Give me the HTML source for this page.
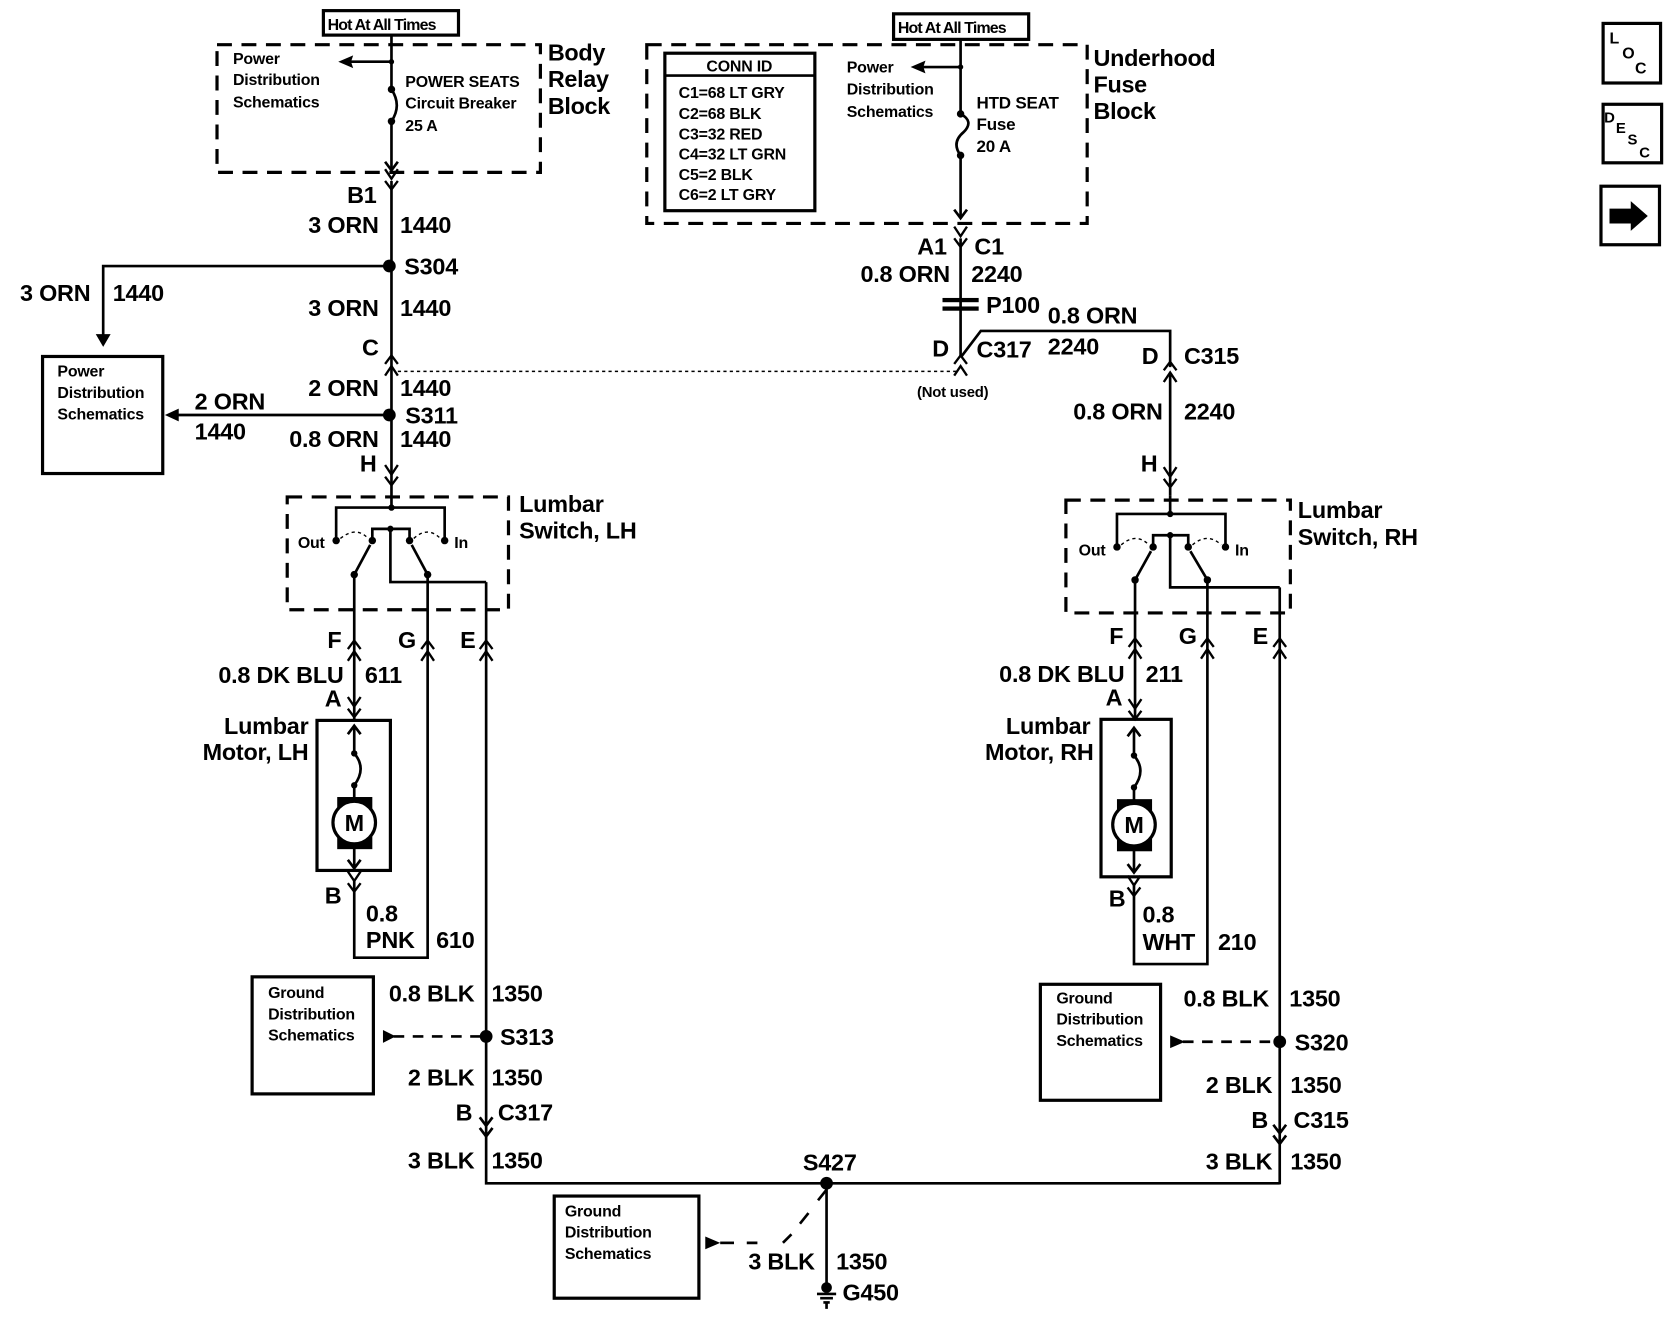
<!DOCTYPE html>
<html><head><meta charset="utf-8"><style>
html,body{margin:0;padding:0;background:#fff;}
svg{display:block;}
text{font-family:"Liberation Sans",sans-serif;fill:#000;}
.t{font-size:22px;font-weight:bold;letter-spacing:-0.2px;}
.s{font-size:15px;font-weight:bold;letter-spacing:-0.2px;}
.b{font-size:22px;font-weight:bold;letter-spacing:-0.3px;}
.w{stroke:#000;stroke-width:2.5;fill:none;}
.d{stroke:#000;stroke-width:3;fill:none;stroke-dasharray:14,9;}
.dt{stroke:#000;stroke-width:1.3;fill:none;stroke-dasharray:3,3;}
.bx{stroke:#000;stroke-width:3;fill:none;}
</style></head><body>
<svg width="1668" height="1328" viewBox="0 0 1568 1248" preserveAspectRatio="none" xmlns="http://www.w3.org/2000/svg">
<defs>
<g id="cd"><path d="M-6,-9 L0,0 L6,-9 M-6,2 L0,10 L6,2" stroke="#000" stroke-width="2.2" fill="none"/></g>
<g id="cu"><path d="M-6,9 L0,0 L6,9 M-6,-2 L0,-10 L6,-2" stroke="#000" stroke-width="2.2" fill="none"/></g>
</defs>

<!-- ===== Top left: Body Relay Block ===== -->
<rect x="304" y="10" width="127" height="23" class="bx"/>
<text x="308" y="28" class="s" style="letter-spacing:-0.8px">Hot At All Times</text>
<rect x="204" y="42" width="304" height="120" class="d"/>
<text x="219" y="60" class="s">Power</text>
<text x="219" y="80" class="s">Distribution</text>
<text x="219" y="101" class="s">Schematics</text>
<path d="M368,33 V84 M368,114 V160" class="w"/>
<path d="M368,58 H326" class="w"/>
<path d="M318,58 L332,52 L330,58 L332,64 Z" fill="#000"/>
<circle cx="368" cy="58" r="2.5"/>
<circle cx="368" cy="84" r="3.5"/><circle cx="368" cy="114" r="3.5"/>
<path d="M368,84 Q378,99 368,114" class="w"/>
<path d="M362,152 L368,160 L374,152" class="w"/>
<text x="381" y="82" class="s">POWER SEATS</text>
<text x="381" y="102" class="s">Circuit Breaker</text>
<text x="381" y="123" class="s">25 A</text>
<text x="515" y="57" class="b">Body</text>
<text x="515" y="82" class="b">Relay</text>
<text x="515" y="107" class="b">Block</text>

<!-- LH main feed -->
<path d="M368,170 V466" class="w"/>
<use href="#cd" x="368" y="168"/>
<text x="354" y="191" class="t" text-anchor="end">B1</text>
<text x="356" y="219" class="t" text-anchor="end">3 ORN</text>
<text x="376" y="219" class="t">1440</text>
<circle cx="366" cy="250" r="6"/>
<text x="380" y="258" class="t">S304</text>
<path d="M366,250 H97 V318" class="w"/>
<path d="M90,314 L97,326 L104,314" fill="#000"/>
<text x="85" y="283" class="t" text-anchor="end">3 ORN</text>
<text x="106" y="283" class="t">1440</text>
<rect x="40" y="335" width="113" height="110" class="bx"/>
<text x="54" y="354" class="s">Power</text>
<text x="54" y="374" class="s">Distribution</text>
<text x="54" y="394" class="s">Schematics</text>
<text x="356" y="297" class="t" text-anchor="end">3 ORN</text>
<text x="376" y="297" class="t">1440</text>
<text x="356" y="334" class="t" text-anchor="end">C</text>
<use href="#cu" x="368" y="344"/>
<path d="M374,349 H900" class="dt" stroke-width="1.6" stroke-dasharray="5,5"/>
<text x="356" y="372" class="t" text-anchor="end">2 ORN</text>
<text x="376" y="372" class="t">1440</text>
<circle cx="366" cy="390" r="6"/>
<text x="381" y="398" class="t">S311</text>
<path d="M366,390 H166" class="w"/>
<path d="M155,390 L168,384 L168,396 Z" fill="#000"/>
<text x="183" y="385" class="t">2 ORN</text>
<text x="183" y="413" class="t">1440</text>
<text x="356" y="420" class="t" text-anchor="end">0.8 ORN</text>
<text x="376" y="420" class="t">1440</text>
<text x="354" y="443" class="t" text-anchor="end">H</text>
<use href="#cd" x="368" y="446"/>

<!-- LH switch -->
<rect x="270" y="467" width="208" height="106" class="d"/>
<text x="488" y="481" class="t">Lumbar</text>
<text x="488" y="506" class="t">Switch, LH</text>
<path d="M368,466 V477 M316,508 V477 H418 V508" class="w"/>
<circle cx="368" cy="477" r="3"/>
<path d="M350,508 V497 H385 V508 M367,497 V547 H457" class="w"/>
<circle cx="367" cy="497" r="3"/>
<circle cx="316" cy="508" r="3.5"/><circle cx="418" cy="508" r="3.5"/>
<circle cx="350" cy="508" r="3.5"/><circle cx="385" cy="508" r="3.5"/>
<path d="M320,506 Q335,494 346,506 M389,506 Q402,494 414,506" class="dt"/>
<path d="M333,540 L348,512 M402,540 L387,512" class="w"/>
<circle cx="333" cy="540" r="3.5"/><circle cx="402" cy="540" r="3.5"/>
<text x="280" y="515" class="s">Out</text>
<text x="427" y="515" class="s">In</text>
<path d="M333,540 V676 M402,540 V900 H333 V826 M457,547 V1112 H1203" class="w"/>
<use href="#cu" x="333" y="612"/><use href="#cu" x="402" y="612"/><use href="#cu" x="457" y="612"/>
<text x="321" y="609" class="t" text-anchor="end">F</text>
<text x="391" y="609" class="t" text-anchor="end">G</text>
<text x="447" y="609" class="t" text-anchor="end">E</text>
<text x="323" y="642" class="t" text-anchor="end">0.8 DK BLU</text>
<text x="343" y="642" class="t">611</text>
<text x="321" y="664" class="t" text-anchor="end">A</text>
<use href="#cd" x="333" y="664"/>
<!-- LH motor -->
<text x="290" y="690" class="t" text-anchor="end">Lumbar</text>
<text x="290" y="714" class="t" text-anchor="end">Motor, LH</text>
<rect x="298" y="677" width="69" height="141" class="bx"/>
<path d="M333,684 V708" class="w"/>
<path d="M327,690 L333,682 L339,690" class="w"/>
<path d="M333,708 Q345,722 333,738" class="w"/>
<circle cx="333" cy="708" r="3"/>
<circle cx="333" cy="738" r="3"/>
<path d="M333,738 V816" class="w"/>
<rect x="317" y="749" width="33" height="14" fill="#000"/>
<rect x="317" y="784" width="33" height="14" fill="#000"/>
<circle cx="333" cy="773" r="20" fill="#fff" stroke="#000" stroke-width="3"/>
<text x="333" y="781" class="t" text-anchor="middle">M</text>
<path d="M327,808 L333,816 L339,808" class="w"/>
<use href="#cd" x="333" y="828"/>
<text x="321" y="849" class="t" text-anchor="end">B</text>
<text x="344" y="866" class="t">0.8</text>
<text x="344" y="891" class="t">PNK</text>
<text x="410" y="891" class="t">610</text>

<!-- LH ground -->
<rect x="237" y="918" width="114" height="110" class="bx"/>
<text x="252" y="938" class="s">Ground</text>
<text x="252" y="958" class="s">Distribution</text>
<text x="252" y="978" class="s">Schematics</text>
<path d="M370,974 H457" class="w" stroke-dasharray="10,8" stroke-width="2"/>
<path d="M372,974 L360,968 L360,980 Z" fill="#000"/>
<circle cx="457" cy="974" r="6"/>
<text x="470" y="982" class="t">S313</text>
<text x="446" y="941" class="t" text-anchor="end">0.8 BLK</text>
<text x="462" y="941" class="t">1350</text>
<text x="446" y="1020" class="t" text-anchor="end">2 BLK</text>
<text x="462" y="1020" class="t">1350</text>
<text x="444" y="1053" class="t" text-anchor="end">B</text>
<text x="468" y="1053" class="t">C317</text>
<path d="M451,1050 L457,1058 L463,1050 M451,1060 L457,1068 L463,1060" class="w" stroke-width="2"/>
<text x="446" y="1098" class="t" text-anchor="end">3 BLK</text>
<text x="462" y="1098" class="t">1350</text>

<!-- S427 -->
<circle cx="777" cy="1112" r="6"/>
<text x="780" y="1100" class="t" text-anchor="middle">S427</text>
<path d="M777,1112 V1210" class="w"/>
<path d="M777,1118 L769,1128 M760,1140 L752,1150 M744,1160 L736,1168 M712,1168 H702" class="w" stroke-width="2"/>
<path d="M663,1162 L677,1168 L663,1174 Z" fill="#000"/>
<path d="M677,1168 H690" class="w" stroke-width="2"/>
<rect x="521" y="1124" width="136" height="96" class="bx"/>
<text x="531" y="1143" class="s">Ground</text>
<text x="531" y="1163" class="s">Distribution</text>
<text x="531" y="1183" class="s">Schematics</text>
<text x="766" y="1193" class="t" text-anchor="end">3 BLK</text>
<text x="786" y="1193" class="t">1350</text>
<circle cx="777" cy="1210" r="5"/>
<path d="M768,1216 H786 M771,1220 H783 M774,1224 H780 M777,1224 V1230" class="w" stroke-width="2"/>
<text x="792" y="1222" class="t">G450</text>

<!-- ===== Top right: Underhood Fuse Block ===== -->
<rect x="840" y="13" width="127" height="24" class="bx"/>
<text x="844" y="31" class="s" style="letter-spacing:-0.8px">Hot At All Times</text>
<rect x="608" y="42" width="414" height="168" class="d"/>
<rect x="625" y="50" width="141" height="148" class="bx"/>
<path d="M625,71 H766" class="w"/>
<text x="695" y="67" class="s" text-anchor="middle">CONN ID</text>
<text x="638" y="92" class="s">C1=68 LT GRY</text>
<text x="638" y="112" class="s">C2=68 BLK</text>
<text x="638" y="131" class="s">C3=32 RED</text>
<text x="638" y="150" class="s">C4=32 LT GRN</text>
<text x="638" y="169" class="s">C5=2 BLK</text>
<text x="638" y="188" class="s">C6=2 LT GRY</text>
<text x="796" y="68" class="s">Power</text>
<text x="796" y="89" class="s">Distribution</text>
<text x="796" y="110" class="s">Schematics</text>
<path d="M903,37 V107 M903,146 V205" class="w"/>
<path d="M903,63 H868" class="w"/>
<path d="M856,63 L870,57 L868,63 L870,69 Z" fill="#000"/>
<circle cx="903" cy="63" r="2.5"/>
<circle cx="903" cy="107" r="3.5"/><circle cx="903" cy="146" r="3.5"/>
<path d="M903,107 Q916,114 906,124 Q894,134 903,146" class="w"/>
<path d="M897,197 L903,205 L909,197" class="w"/>
<text x="918" y="102" class="s" style="font-size:16px">HTD SEAT</text>
<text x="918" y="122" class="s" style="font-size:16px">Fuse</text>
<text x="918" y="143" class="s" style="font-size:16px">20 A</text>
<text x="1028" y="62" class="b">Underhood</text>
<text x="1028" y="87" class="b">Fuse</text>
<text x="1028" y="112" class="b">Block</text>

<use href="#cd" x="903" y="222"/>
<path d="M903,224 V336" class="w"/>
<text x="890" y="239" class="t" text-anchor="end">A1</text>
<text x="916" y="239" class="t">C1</text>
<text x="893" y="265" class="t" text-anchor="end">0.8 ORN</text>
<text x="913" y="265" class="t">2240</text>
<rect x="886" y="280" width="34" height="4" fill="#000"/>
<rect x="886" y="288" width="34" height="4" fill="#000"/>
<text x="927" y="294" class="t">P100</text>
<path d="M903,336 L922,311 H1100 V345" class="w"/>
<use href="#cu" x="903" y="344"/>
<text x="892" y="335" class="t" text-anchor="end">D</text>
<text x="918" y="336" class="t">C317</text>
<text x="985" y="304" class="t">0.8 ORN</text>
<text x="985" y="333" class="t">2240</text>
<text x="862" y="373" class="s" style="font-size:14px">(Not used)</text>
<use href="#cu" x="1100" y="350"/>
<path d="M1100,352 V466" class="w"/>
<text x="1089" y="342" class="t" text-anchor="end">D</text>
<text x="1113" y="342" class="t">C315</text>
<text x="1093" y="394" class="t" text-anchor="end">0.8 ORN</text>
<text x="1113" y="394" class="t">2240</text>
<text x="1088" y="443" class="t" text-anchor="end">H</text>
<use href="#cd" x="1100" y="448"/>

<!-- RH switch -->
<rect x="1002" y="470" width="211" height="106" class="d"/>
<text x="1220" y="487" class="t">Lumbar</text>
<text x="1220" y="512" class="t">Switch, RH</text>
<path d="M1100,466 V483 M1050,514 V483 H1152 V514" class="w"/>
<circle cx="1100" cy="483" r="3"/>
<path d="M1084,514 V503 H1117 V514 M1100,503 V552 H1203" class="w"/>
<circle cx="1100" cy="503" r="3"/>
<circle cx="1050" cy="514" r="3.5"/><circle cx="1152" cy="514" r="3.5"/>
<circle cx="1084" cy="514" r="3.5"/><circle cx="1117" cy="514" r="3.5"/>
<path d="M1054,512 Q1068,500 1080,512 M1121,512 Q1135,500 1148,512" class="dt"/>
<path d="M1067,545 L1082,518 M1135,545 L1119,518" class="w"/>
<circle cx="1067" cy="545" r="3.5"/><circle cx="1135" cy="545" r="3.5"/>
<text x="1014" y="522" class="s">Out</text>
<text x="1161" y="522" class="s">In</text>
<path d="M1067,545 V677 M1135,545 V906 H1066 V830 M1203,552 V1113" class="w"/>
<use href="#cu" x="1067" y="610"/><use href="#cu" x="1135" y="610"/><use href="#cu" x="1203" y="610"/>
<text x="1056" y="605" class="t" text-anchor="end">F</text>
<text x="1125" y="605" class="t" text-anchor="end">G</text>
<text x="1192" y="605" class="t" text-anchor="end">E</text>
<text x="1057" y="641" class="t" text-anchor="end">0.8 DK BLU</text>
<text x="1077" y="641" class="t">211</text>
<text x="1055" y="663" class="t" text-anchor="end">A</text>
<use href="#cd" x="1067" y="666"/>
<text x="1025" y="690" class="t" text-anchor="end">Lumbar</text>
<text x="1028" y="714" class="t" text-anchor="end">Motor, RH</text>
<rect x="1035" y="676" width="66" height="148" class="bx"/>
<path d="M1066,684 V710" class="w"/>
<path d="M1060,692 L1066,684 L1072,692" class="w"/>
<circle cx="1066" cy="710" r="3"/>
<path d="M1066,710 Q1078,724 1066,740" class="w"/>
<circle cx="1066" cy="740" r="3"/>
<path d="M1066,740 V820" class="w"/>
<rect x="1050" y="751" width="33" height="14" fill="#000"/>
<rect x="1050" y="786" width="33" height="14" fill="#000"/>
<circle cx="1066" cy="775" r="20" fill="#fff" stroke="#000" stroke-width="3"/>
<text x="1066" y="783" class="t" text-anchor="middle">M</text>
<path d="M1060,812 L1066,820 L1072,812" class="w"/>
<use href="#cd" x="1066" y="832"/>
<text x="1058" y="852" class="t" text-anchor="end">B</text>
<text x="1074" y="867" class="t">0.8</text>
<text x="1074" y="893" class="t">WHT</text>
<text x="1145" y="893" class="t">210</text>

<!-- RH ground -->
<rect x="978" y="925" width="113" height="109" class="bx"/>
<text x="993" y="943" class="s">Ground</text>
<text x="993" y="963" class="s">Distribution</text>
<text x="993" y="983" class="s">Schematics</text>
<path d="M1112,979 H1203" class="w" stroke-dasharray="10,8" stroke-width="2"/>
<path d="M1114,979 L1100,973 L1100,985 Z" fill="#000"/>
<circle cx="1203" cy="979" r="6"/>
<text x="1217" y="987" class="t">S320</text>
<text x="1193" y="946" class="t" text-anchor="end">0.8 BLK</text>
<text x="1212" y="946" class="t">1350</text>
<text x="1196" y="1027" class="t" text-anchor="end">2 BLK</text>
<text x="1213" y="1027" class="t">1350</text>
<text x="1192" y="1060" class="t" text-anchor="end">B</text>
<text x="1216" y="1060" class="t">C315</text>
<path d="M1197,1057 L1203,1065 L1209,1057 M1197,1067 L1203,1075 L1209,1067" class="w" stroke-width="2"/>
<text x="1196" y="1099" class="t" text-anchor="end">3 BLK</text>
<text x="1213" y="1099" class="t">1350</text>

<!-- Icons -->
<rect x="1507" y="22" width="54" height="56" class="bx"/>
<text x="1513" y="41" class="s" style="font-size:15px">L</text>
<text x="1525" y="55" class="s" style="font-size:15px">O</text>
<text x="1537" y="69" class="s" style="font-size:15px">C</text>
<rect x="1507" y="98" width="55" height="55" class="bx"/>
<text x="1508" y="115" class="s" style="font-size:14px">D</text>
<text x="1519" y="125" class="s" style="font-size:14px">E</text>
<text x="1530" y="136" class="s" style="font-size:14px">S</text>
<text x="1541" y="148" class="s" style="font-size:14px">C</text>
<rect x="1505" y="175" width="55" height="55" class="bx"/>
<path d="M1513,196 H1533 V189 L1549,203 L1533,217 V210 H1513 Z" fill="#000"/>
</svg>
</body></html>
